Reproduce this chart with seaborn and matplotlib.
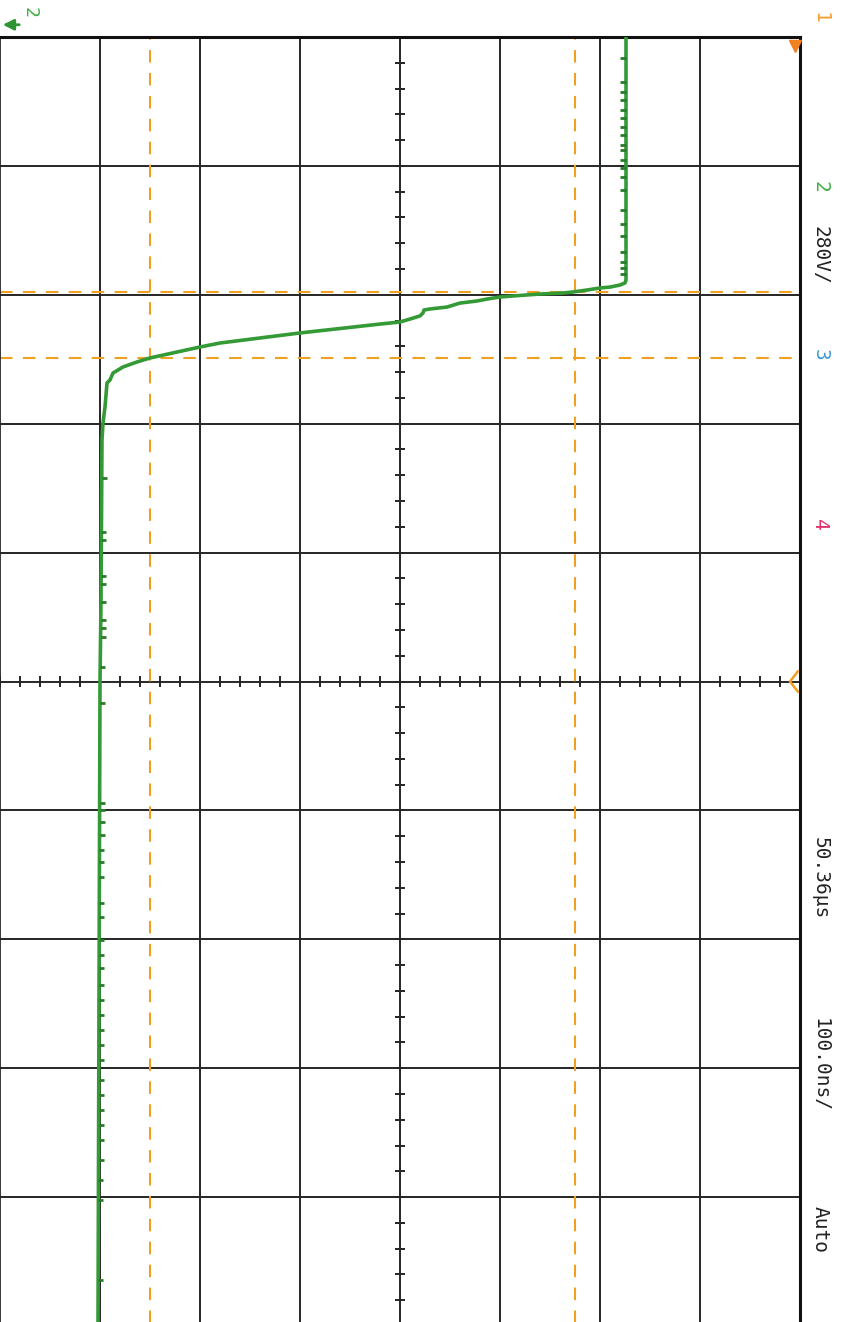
import numpy as np
import pandas as pd
import matplotlib
matplotlib.use('Agg')
import matplotlib.pyplot as plt
import seaborn as sns

# scope screen rotated 90 deg: time runs down (divisions 0..10), volts run right (0..8)
t_div = [0.0, 1.885, 1.908, 1.924, 1.940, 1.947, 1.963, 1.978, 1.986, 1.994, 2.009,
         2.017, 2.033, 2.048, 2.064, 2.095, 2.110, 2.118, 2.141, 2.164, 2.188, 2.211,
         2.219, 2.227, 2.296, 2.374, 2.405, 2.444, 2.490, 2.521, 2.560, 2.607, 2.661,
         2.684, 2.870, 2.995, 3.126, 4.368, 5.012, 7.471, 10.0]
v_div = [6.26, 6.26, 6.25, 6.20, 6.10, 6.00, 5.87, 5.73, 5.63, 5.40, 5.13,
         5.00, 4.87, 4.77, 4.60, 4.47, 4.30, 4.24, 4.23, 4.20, 4.10, 4.00,
         3.90, 3.80, 3.00, 2.20, 2.00, 1.77, 1.50, 1.37, 1.23, 1.13, 1.10,
         1.07, 1.05, 1.03, 1.02, 1.01, 1.00, 0.99, 0.98]

# peak-detect glitches on the trace
glitch_hi_t = [0.163, 0.349, 0.427, 0.489, 0.566, 0.628, 0.698, 0.760, 0.838, 0.877,
               0.954, 1.016, 1.086, 1.187, 1.342, 1.451, 1.544, 1.668, 1.746, 1.792, 1.839]
glitch_lo_t = [3.421, 3.840, 3.902, 4.182, 4.244, 4.384, 4.523, 4.585, 4.655, 4.888,
               5.167, 5.943, 5.997, 6.090, 6.191, 6.307, 6.400, 6.517, 6.718, 6.827,
               7.006, 7.122, 7.223, 7.355, 7.471, 7.587, 7.704, 7.820, 7.937, 8.092,
               8.208, 8.324, 8.441, 8.557, 8.712, 8.867, 9.022, 9.643]

v_cursors = [1.50, 5.75]
t_cursors = [1.978, 2.49]

status_text = ['1', '2', '280V/', '3', '4', '50.36µs', '100.0ns/', 'Auto']
status_color = ['#f0a030', '#3cb043', '#222222', '#3a9ad9', '#e0306a',
                '#222222', '#222222', '#222222']
status_ypix = [18, 187, 255, 355, 525, 878, 1065, 1230]

sns.set_style('white')
W, H = 845, 1322
fig = plt.figure(figsize=(W / 100, H / 100), dpi=100)
ax = fig.add_axes([0, (H - 1326) / H, 800 / W, 1289 / H])

grid_c = '#262626'
for v in range(1, 8):
    ax.axvline(v, color=grid_c, lw=1.4, zorder=1)
for t in range(1, 10):
    ax.axhline(t, color=grid_c, lw=1.4, zorder=1)

# center axes with minor ticks
minor = np.arange(0, 10.01, 0.2)
ax.hlines(minor, 4 - 0.05, 4 + 0.05, color=grid_c, lw=1.4, zorder=1)
minor_v = np.arange(0, 8.01, 0.2)
ax.vlines(minor_v, 5 - 0.04, 5 + 0.04, color=grid_c, lw=1.4, zorder=1)

# cursors
for v in v_cursors:
    ax.axvline(v, color='#f0a020', lw=1.5, ls=(0, (6, 5)), zorder=2)
for t in t_cursors:
    ax.axhline(t, color='#f0a020', lw=1.5, ls=(0, (6, 5)), zorder=2)

trace = pd.DataFrame({'time': t_div, 'volts': v_div})
sns.lineplot(data=trace, x='volts', y='time', sort=False, estimator=None,
             color='#339a35', lw=2.6, ax=ax, zorder=3)
hi_base = np.interp(glitch_hi_t, t_div, v_div)
ax.hlines(glitch_hi_t, hi_base - 0.06, hi_base, color='#2a7a2a', lw=2, zorder=3)
lo_base = np.interp(glitch_lo_t, t_div, v_div)
ax.hlines(glitch_lo_t, lo_base, lo_base + 0.05, color='#2a7a2a', lw=2, zorder=3)

ax.set_xlim(0, 8)
ax.set_ylim(10, 0)
ax.set_xlabel('')
ax.set_ylabel('')
ax.set_xticks([])
ax.set_yticks([])
for side in ['top', 'right']:
    ax.spines[side].set_linewidth(2.2)
    ax.spines[side].set_color('#111111')
ax.spines['left'].set_linewidth(1.3)
ax.spines['left'].set_color(grid_c)
ax.spines['bottom'].set_visible(False)

# trigger markers on the right edge
ax.plot([7.95], [0.07], marker='v', ms=9, color='#f08020', clip_on=False, zorder=5)
ax.plot([7.98, 7.9, 7.98], [4.92, 5.0, 5.08], color='#f0a020', lw=1.8,
        clip_on=False, zorder=5)
# channel 2 ground arrow (off screen)
ax.annotate('', xy=(0.0, -0.095), xytext=(0.22, -0.095),
            arrowprops=dict(arrowstyle='-|>', color='#2f9432', lw=2, mutation_scale=16),
            annotation_clip=False)
fig.text(30 / W, 1 - 12 / H, '2', color='#3cb043', rotation=-90, fontsize=13,
         family='DejaVu Sans Mono', ha='center', va='center')

for txt, col, yp in zip(status_text, status_color, status_ypix):
    fig.text(820 / W, 1 - yp / H, txt, color=col, rotation=-90, fontsize=14,
             family='DejaVu Sans Mono', ha='center', va='center')

fig.savefig('out.png', dpi=100)
